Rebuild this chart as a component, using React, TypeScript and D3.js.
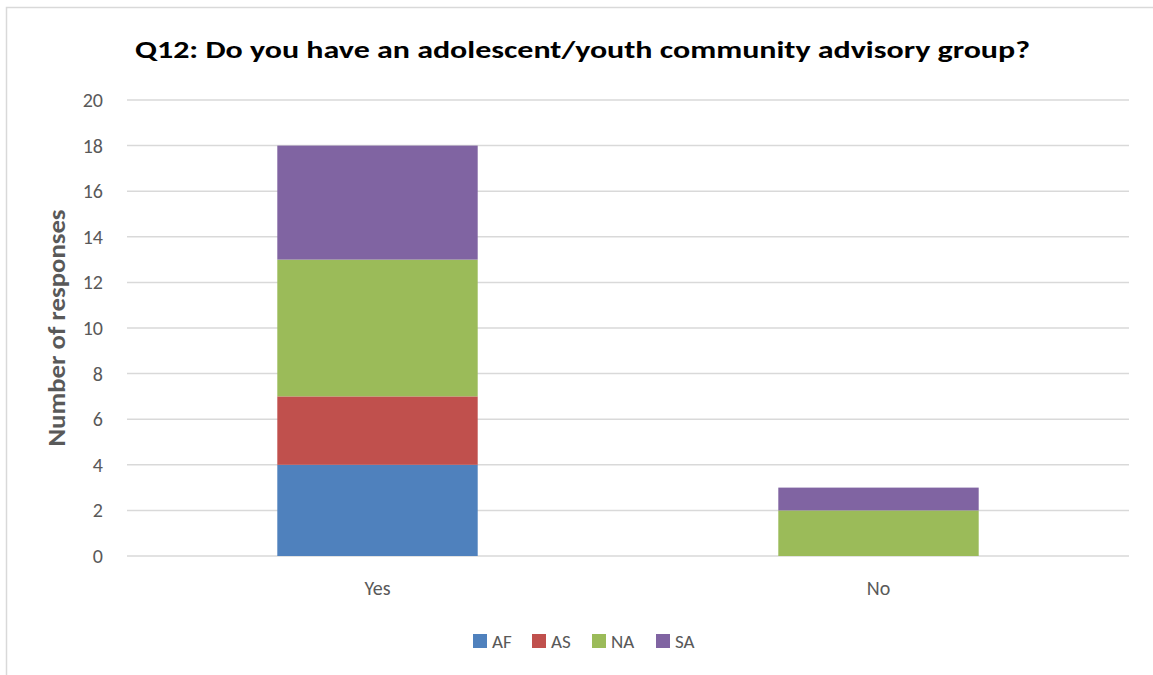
import React from "react";
import * as d3 from "d3";

const categories = ["Yes", "No"];
const seriesNames = ["AF", "AS", "NA", "SA"];
const seriesColors = ["#4F81BD", "#C0504D", "#9BBB59", "#8064A2"];
const valuesAF = [4, 0];
const valuesAS = [3, 0];
const valuesNA = [6, 2];
const valuesSA = [5, 1];
const yTicks = [0, 2, 4, 6, 8, 10, 12, 14, 16, 18, 20];

const W = 1153;
const H = 675;
const FONT = "Carlito, Calibri, Lato, 'Liberation Sans', Arial, sans-serif";

export default function App() {
  const left = 127, right = 1129, top = 100, bottom = 556;
  const x = d3.scaleBand<string>().domain(categories).range([left, right]).paddingInner(0.6).paddingOuter(0.3);
  const y = d3.scaleLinear().domain([0, 20]).range([bottom, top]);

  const rows = categories.map((c, i) => ({
    cat: c, AF: valuesAF[i], AS: valuesAS[i], NA: valuesNA[i], SA: valuesSA[i],
  }));
  const stacked = d3.stack<any>().keys(seriesNames)(rows);

  const legendX = [473, 532, 592, 656];

  return (
    <svg width={W} height={H} style={{ position: "absolute", left: 0, top: 0, background: "#fff" }}>
      <rect x={6.5} y={7.5} width={1160} height={700} fill="#fff" stroke="#D9D9D9" strokeWidth={1.5} />
      <text x={582.5} y={58} textAnchor="middle" fontFamily={FONT} fontWeight="bold" fontSize={25}
        textLength={895} lengthAdjust="spacingAndGlyphs" fill="#000">
        Q12: Do you have an adolescent/youth community advisory group?
      </text>
      {yTicks.map((t) => (
        <g key={t}>
          <line x1={left} x2={right} y1={y(t)} y2={y(t)} stroke="#D9D9D9" strokeWidth={1.5} />
          <text x={103} y={y(t) + 7} textAnchor="end" fontFamily={FONT} fontSize={20} fill="#595959">{t}</text>
        </g>
      ))}
      {stacked.map((s, si) => (
        <g key={s.key} fill={seriesColors[si]}>
          {s.map((d, i) => (
            d[1] - d[0] > 0 ? (
              <rect key={i} x={x(categories[i])} width={x.bandwidth()} y={y(d[1])} height={y(d[0]) - y(d[1])} />
            ) : null
          ))}
        </g>
      ))}
      {categories.map((c) => (
        <text key={c} x={(x(c) as number) + x.bandwidth() / 2} y={595} textAnchor="middle" fontFamily={FONT} fontSize={20} fill="#595959">{c}</text>
      ))}
      <text transform={`translate(65,${(top + bottom) / 2}) rotate(-90)`} textAnchor="middle" fontFamily={FONT}
        fontWeight="bold" fontSize={24} textLength={237} lengthAdjust="spacingAndGlyphs" fill="#595959">Number of responses</text>
      {seriesNames.map((n, i) => (
        <g key={n}>
          <rect x={legendX[i]} y={634} width={14} height={14} fill={seriesColors[i]} />
          <text x={legendX[i] + 19} y={648} fontFamily={FONT} fontSize={19} fill="#595959">{n}</text>
        </g>
      ))}
    </svg>
  );
}
